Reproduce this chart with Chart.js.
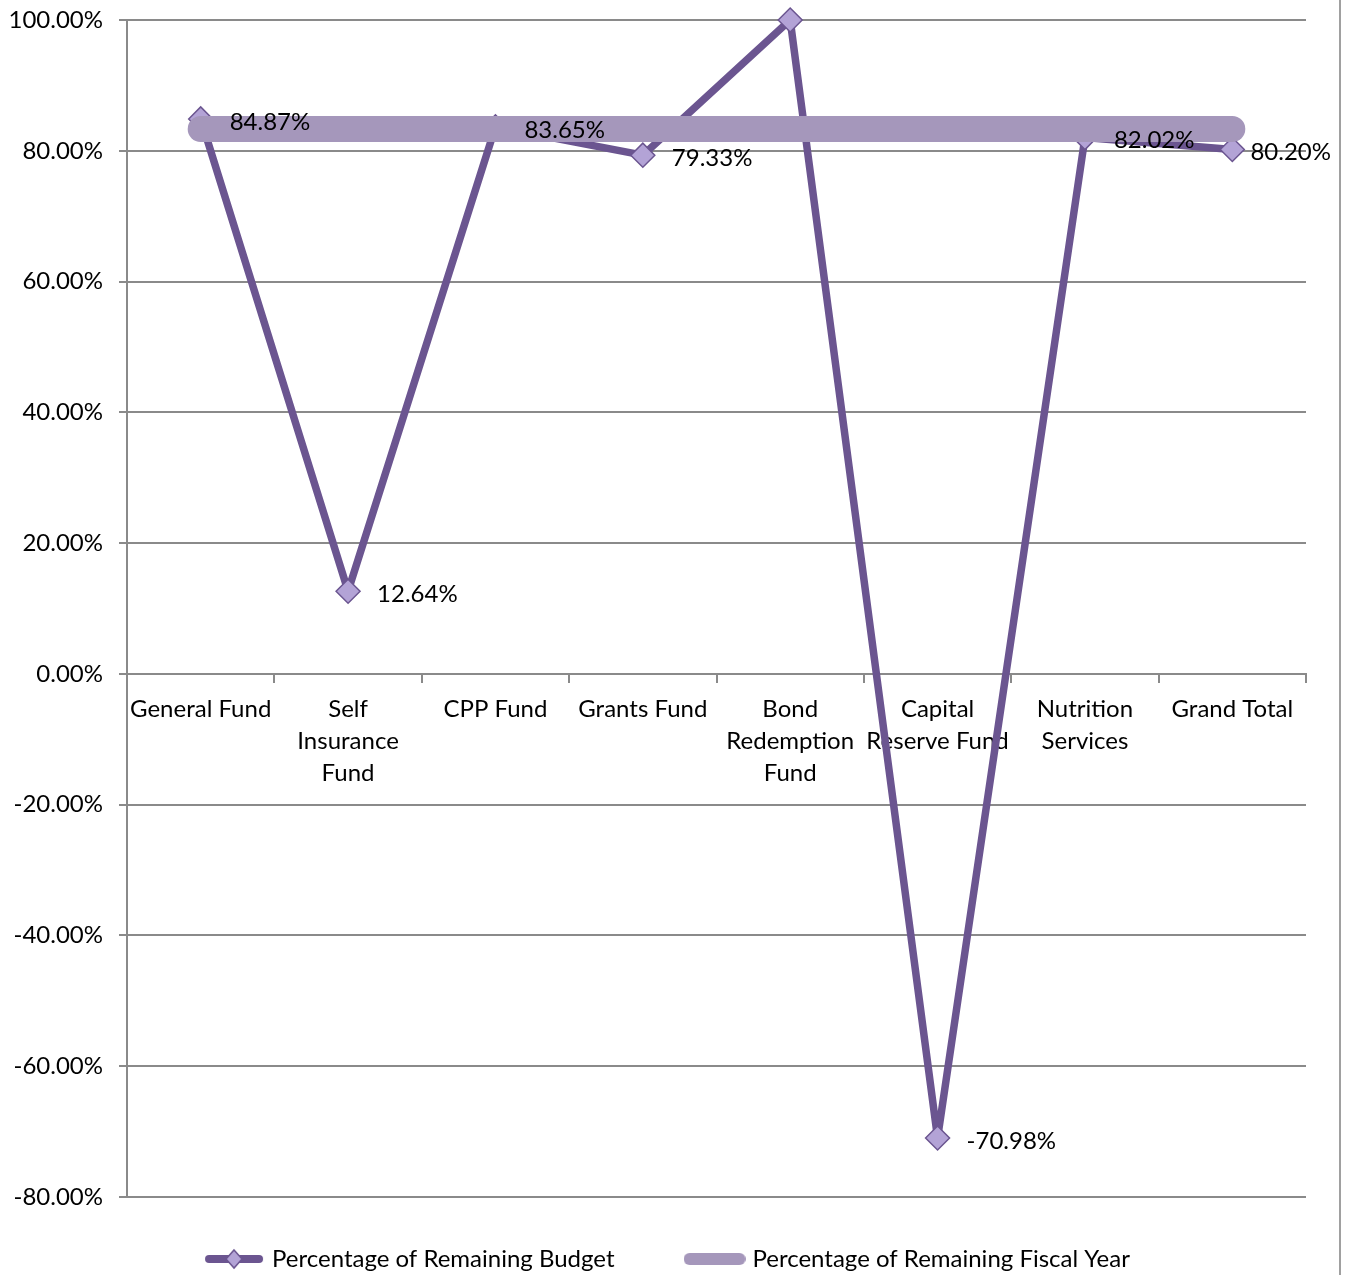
<!DOCTYPE html>
<html>
<head>
<meta charset="utf-8">
<script src="https://cdn.jsdelivr.net/npm/chart.js@4/dist/chart.umd.min.js"></script>
<style>
    body { margin: 0; background: #fff; }
    #wrap { position: relative; width: 1346px; height: 1275px; }
    #edge { position: absolute; left: 1339px; top: 0; width: 2px; height: 1275px; background: #a0a0a0; }
</style>
</head>
<body>
<div id="wrap">
    <canvas id="grafico" width="1346" height="1275"></canvas>
    <div id="edge"></div>
</div>
<script>
// Categorias e valores (em %)
const categorias = [
    'General Fund',
    ['Self', 'Insurance', 'Fund'],
    'CPP Fund',
    'Grants Fund',
    ['Bond', 'Redemption', 'Fund'],
    ['Capital', 'Reserve Fund'],
    ['Nutrition', 'Services'],
    'Grand Total'
];
const orcamentoRestante = [84.87, 12.64, 83.65, 79.33, 100.00, -70.98, 82.02, 80.20];
const anoFiscalRestante = [83.33, 83.33, 83.33, 83.33, 83.33, 83.33, 83.33, 83.33];
const mostrarRotulo = [true, true, true, true, false, true, true, true];
const nomesSeries = ['Percentage of Remaining Budget', 'Percentage of Remaining Fiscal Year'];
const ticksY = { min: -80, max: 100, passo: 20 };

const corOrcamento = '#6b5590';
const corLosango = '#b3a3d6';
const corFiscal = '#a597bb';
const corGrade = '#8a8a8a';
const fonte = 'Lato, "Open Sans", sans-serif';

// Amostras da legenda desenhadas num canvas
function amostraLegenda(cor, comLosango) {
    const c = document.createElement('canvas');
    c.width = 62; c.height = 22;
    const ctx = c.getContext('2d');
    ctx.strokeStyle = cor;
    ctx.lineCap = 'round';
    ctx.lineWidth = comLosango ? 8 : 12;
    ctx.beginPath();
    ctx.moveTo(6, 11); ctx.lineTo(56, 11);
    ctx.stroke();
    if (comLosango) {
        ctx.beginPath();
        ctx.moveTo(31, 2); ctx.lineTo(39, 11); ctx.lineTo(31, 20); ctx.lineTo(23, 11); ctx.closePath();
        ctx.fillStyle = corLosango; ctx.fill();
        ctx.lineWidth = 1.5; ctx.strokeStyle = corOrcamento; ctx.stroke();
    }
    return c;
}

// Plugin simples para os rótulos de dados
const rotulosDados = {
    id: 'rotulosDados',
    afterDatasetsDraw(chart) {
        const ctx = chart.ctx;
        const meta = chart.getDatasetMeta(0);
        ctx.save();
        ctx.font = '24px ' + fonte;
        ctx.fillStyle = '#000';
        ctx.textAlign = 'left';
        ctx.textBaseline = 'middle';
        meta.data.forEach((pt, i) => {
            if (!mostrarRotulo[i]) return;
            const texto = orcamentoRestante[i].toFixed(2) + '%';
            // não deixa o rótulo passar da borda direita
            const x = Math.min(pt.x + 29, chart.width - 15 - ctx.measureText(texto).width);
            ctx.fillText(texto, x, pt.y + 3);
        });
        ctx.restore();
    }
};

// Ajusta a legenda: altura fixa e posição (o padding dela serve para o espaço entre itens)
const ajusteLegenda = {
    id: 'ajusteLegenda',
    beforeLayout(chart) {
        const leg = chart.legend;
        if (leg && !leg._ajustada) {
            const fitOriginal = leg.fit;
            leg.fit = function () {
                fitOriginal.call(this);
                this.height = 78;
            };
            leg._ajustada = true;
        }
    },
    afterLayout(chart) {
        const leg = chart.legend;
        leg.top -= 24;
        leg.left += 16;
        leg.right += 16;
    }
};

new Chart(document.getElementById('grafico'), {
    type: 'line',
    data: {
        labels: categorias,
        datasets: [
            {
                label: nomesSeries[0],
                data: orcamentoRestante,
                borderColor: corOrcamento,
                borderWidth: 7.5,
                borderJoinStyle: 'round',
                pointStyle: 'rectRot',
                pointRadius: 12,
                pointBackgroundColor: corLosango,
                pointBorderColor: corOrcamento,
                pointBorderWidth: 1.5,
                tension: 0,
                clip: false,
                order: 2
            },
            {
                label: nomesSeries[1],
                data: anoFiscalRestante,
                borderColor: corFiscal,
                borderWidth: 26,
                borderCapStyle: 'round',
                pointRadius: 0,
                tension: 0,
                order: 1
            }
        ]
    },
    options: {
        responsive: false,
        animation: false,
        layout: { padding: { left: 0, right: 40, top: 20, bottom: 0 } },
        plugins: {
            tooltip: { enabled: false },
            legend: {
                position: 'bottom',
                labels: {
                    color: '#000',
                    font: { family: fonte, size: 24 },
                    usePointStyle: true,
                    pointStyleWidth: 52,
                    padding: 74,
                    generateLabels: () => [
                        { text: nomesSeries[0], pointStyle: amostraLegenda(corOrcamento, true), datasetIndex: 0, lineWidth: 0, strokeStyle: 'transparent', fillStyle: 'transparent', fontColor: '#000' },
                        { text: nomesSeries[1], pointStyle: amostraLegenda(corFiscal, false), datasetIndex: 1, lineWidth: 0, strokeStyle: 'transparent', fillStyle: 'transparent', fontColor: '#000' }
                    ]
                }
            }
        },
        scales: {
            x: {
                position: { y: 0 },
                offset: true,
                grid: { offset: true, drawOnChartArea: false, drawTicks: true, tickLength: 8, color: corGrade, lineWidth: 2 },
                border: { color: corGrade, width: 2 },
                ticks: {
                    color: '#000',
                    font: { family: fonte, size: 24, lineHeight: 1.34 },
                    padding: 11,
                    maxRotation: 0,
                    autoSkip: false
                }
            },
            y: {
                min: ticksY.min,
                max: ticksY.max,
                afterFit: scale => {
                    scale.width = 127;
                    scale.paddingTop = 0;
                    scale.paddingBottom = 0;
                },
                grid: { color: corGrade, lineWidth: 2, tickLength: 8 },
                border: { color: corGrade, width: 2 },
                ticks: {
                    stepSize: ticksY.passo,
                    color: '#000',
                    padding: 16,
                    font: { family: fonte, size: 24 },
                    callback: v => v.toFixed(2) + '%'
                }
            }
        }
    },
    plugins: [rotulosDados, ajusteLegenda]
});
</script>
</body>
</html>
